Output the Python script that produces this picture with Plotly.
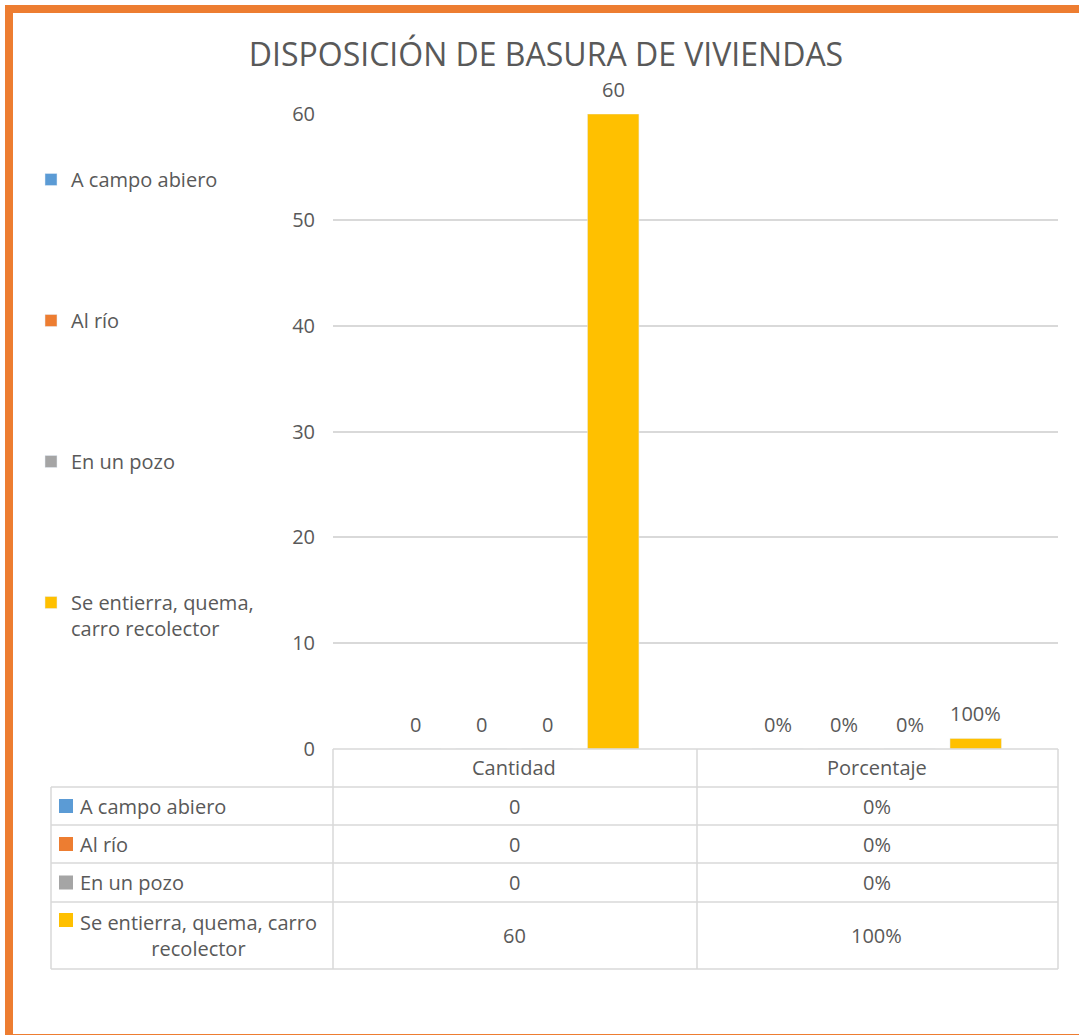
import plotly.graph_objects as go

# ---- data ----
categories = ["Cantidad", "Porcentaje"]
series_names = ["A campo abiero", "Al río", "En un pozo", "Se entierra, quema, carro recolector"]
cantidad = [0, 0, 0, 60]
porcentaje = [0.0, 0.0, 0.0, 1.0]
pct_labels = ["0%", "0%", "0%", "100%"]
legend_labels = ["A campo abiero", "Al río", "En un pozo", "Se entierra, quema,<br>carro recolector"]
table_labels = ["A campo abiero", "Al río", "En un pozo", "Se entierra, quema, carro<br>recolector"]
y_ticks = [0, 10, 20, 30, 40, 50, 60]
colors = ["#5B9BD5", "#ED7D31", "#A5A5A5", "#FFC000"]
title_text = "DISPOSICIÓN DE BASURA DE VIVIENDAS"

FONT = "Open Sans"
TXT = "#595959"
GRID = "#D9D9D9"
W, H = 1079, 1035
L, R, T, B = 333, 1058, 114, 749
BARGAP = 0.272
BARGROUPGAP = 0.22


def xp(px):
    return (px - L) / (R - L)


def yp(py):
    return (B - py) / (B - T)


fig = go.Figure()
n = len(series_names)
for i, name in enumerate(series_names):
    fig.add_trace(go.Bar(
        name=legend_labels[i],
        x=categories,
        y=[cantidad[i], porcentaje[i]],
        marker=dict(color=colors[i]),
        legendgroup=f"g{i}",
        hovertext=[str(cantidad[i]), pct_labels[i]],
        hoverinfo="name+text",
    ))

shapes = []
annotations = []

# data labels above bars (positions derived from the category index and bar layout)
slot = (1 - BARGAP) / n
for i in range(n):
    for ci, (val, lab) in enumerate([(cantidad[i], str(cantidad[i])), (porcentaje[i], pct_labels[i])]):
        annotations.append(dict(x=ci + (i - (n - 1) / 2) * slot, xref="x", y=val, yref="y",
                                text=lab, showarrow=False, yanchor="bottom", yshift=9,
                                font=dict(size=20, color=TXT, family=FONT)))

# outer orange frame
shapes.append(dict(type="rect", xref="paper", yref="paper",
                   x0=xp(9), x1=xp(1090), y0=yp(1038), y1=yp(9),
                   line=dict(color="#ED7D31", width=8), layer="below"))

# data table grid
row_lines = [749, 787, 825, 863, 902, 969]
for k, ry in enumerate(row_lines):
    x0 = L if k == 0 else 51
    shapes.append(dict(type="line", xref="paper", yref="paper",
                       x0=xp(x0), x1=xp(R), y0=yp(ry), y1=yp(ry),
                       line=dict(color=GRID, width=1.5)))
for cx in [333, 697, R]:
    shapes.append(dict(type="line", xref="paper", yref="paper",
                       x0=xp(cx), x1=xp(cx), y0=yp(749), y1=yp(969),
                       line=dict(color=GRID, width=1.5)))
shapes.append(dict(type="line", xref="paper", yref="paper",
                   x0=xp(51), x1=xp(51), y0=yp(787), y1=yp(969),
                   line=dict(color=GRID, width=1.5)))

# header
for c in categories:
    annotations.append(dict(x=c, xref="x", y=yp(768), yref="paper", text=c,
                            showarrow=False, font=dict(size=20, color=TXT, family=FONT),
                            xanchor="center", yanchor="middle"))

row_centers = [806, 844, 882.5, 935.5]
for i in range(n):
    cy = row_centers[i]
    my = cy if i < 3 else 920
    shapes.append(dict(type="rect", xref="paper", yref="paper",
                       x0=xp(59), x1=xp(73), y0=yp(my + 7), y1=yp(my - 7),
                       fillcolor=colors[i], line=dict(width=0)))
    annotations.append(dict(x=xp(78), xref="paper", y=yp(cy), yref="paper",
                            text=table_labels[i], showarrow=False,
                            align="left" if i < 3 else "center",
                            font=dict(size=20, color=TXT, family=FONT),
                            xanchor="left", yanchor="middle"))
    annotations.append(dict(x=categories[0], xref="x", y=yp(cy), yref="paper",
                            text=str(cantidad[i]), showarrow=False,
                            font=dict(size=20, color=TXT, family=FONT),
                            xanchor="center", yanchor="middle"))
    annotations.append(dict(x=categories[1], xref="x", y=yp(cy), yref="paper",
                            text=pct_labels[i], showarrow=False,
                            font=dict(size=20, color=TXT, family=FONT),
                            xanchor="center", yanchor="middle"))

fig.update_layout(
    width=W, height=H,
    margin=dict(l=L, r=W - R, t=T, b=H - B),
    paper_bgcolor="white", plot_bgcolor="white",
    font=dict(family=FONT, color=TXT, size=20),
    title=dict(text=title_text, x=546 / W, xref="container", xanchor="center",
               y=1 - 55 / H, yref="container", yanchor="middle",
               font=dict(size=32, color=TXT, family=FONT)),
    barmode="group",
    bargap=BARGAP,
    bargroupgap=BARGROUPGAP,
    showlegend=True,
    legend=dict(x=xp(31), xanchor="left", y=yp(160), yanchor="top",
                font=dict(size=20, color=TXT, family=FONT),
                tracegroupgap=112, valign="top", traceorder="grouped",
                bgcolor="rgba(0,0,0,0)"),
    xaxis=dict(showticklabels=False, showgrid=False, zeroline=False,
               showline=False, ticks=""),
    yaxis=dict(range=[0, 60], tickvals=y_ticks, showgrid=True, gridcolor=GRID,
               gridwidth=1.5, zeroline=False, showline=False, ticks="",
               ticklabelstandoff=17,
               tickfont=dict(size=20, color=TXT, family=FONT)),
    shapes=shapes,
    annotations=annotations,
)

fig.write_html("out.html", config={"displayModeBar": False},
               post_script="document.body.style.margin='0';")
